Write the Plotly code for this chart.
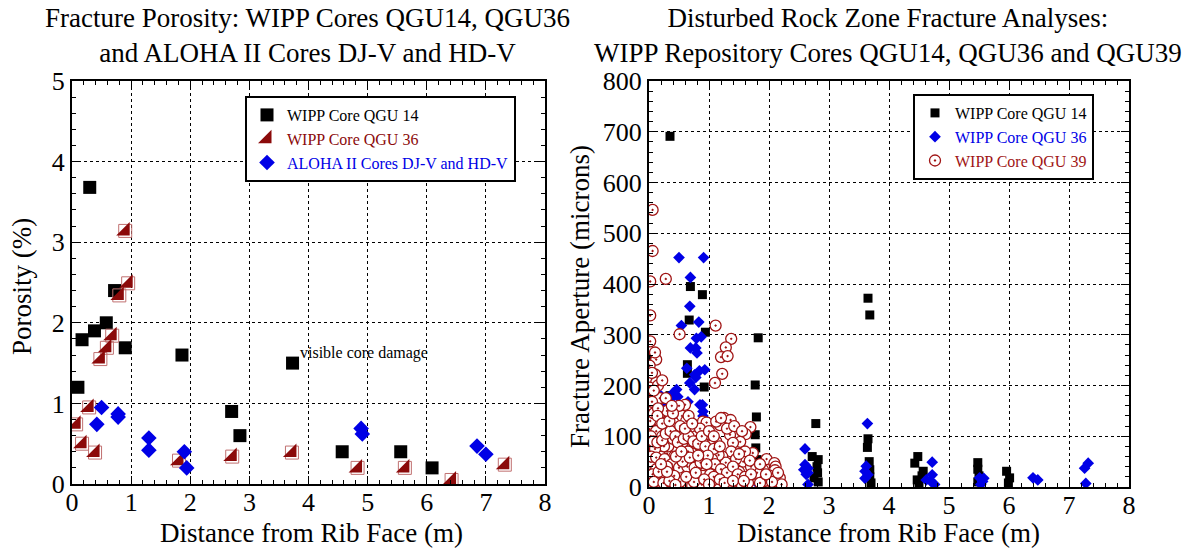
import plotly.graph_objects as go

# ---------------- Left chart data (Porosity %) ----------------
q14_x = [0.10, 0.17, 0.30, 0.38, 0.58, 0.72, 0.90, 1.86, 2.70, 2.84, 3.73, 4.57, 5.56, 6.09]
q14_y = [1.20, 1.79, 3.68, 1.90, 2.00, 2.40, 1.69, 1.60, 0.90, 0.60, 1.50, 0.40, 0.40, 0.20]

q36_x = [0.90, 0.95, 0.80, 0.68, 0.59, 0.48, 0.29, 0.07, 0.17, 0.39, 1.81, 2.71, 3.72, 4.83, 5.63, 6.42, 7.32]
q36_y = [3.14, 2.49, 2.34, 1.84, 1.69, 1.55, 0.95, 0.74, 0.50, 0.39, 0.29, 0.34, 0.39, 0.20, 0.20, 0.05, 0.24]

aloha_x = [0.50, 0.42, 0.78, 0.78, 1.30, 1.30, 1.90, 1.94, 4.89, 4.91, 6.85, 7.00]
aloha_y = [0.95, 0.74, 0.87, 0.83, 0.57, 0.42, 0.40, 0.20, 0.69, 0.62, 0.47, 0.37]

# ---------------- Right chart data (Aperture, microns) ----------------
r14_x = [0.35, 0.69, 0.89, 0.67, 0.94, 0.03, 0.64, 0.64, 0.92, 0.35, 0.00, 1.82, 1.77, 1.79, 1.77, 1.78,
         1.80, 1.78, 1.80, 0.70, 0.72, 0.70, 0.68, 0.00, 0.02, 0.05, 2.78, 2.72, 2.82, 2.80, 2.81, 2.82,
         2.75, 3.65, 3.68, 3.65, 3.64, 3.67, 3.68, 3.68, 3.70, 4.48, 4.43, 4.57, 4.47, 4.50, 4.55, 5.48,
         5.48, 5.50, 5.48, 5.96, 6.01, 5.99]
r14_y = [691, 395, 379, 329, 305, 257, 241, 224, 197, 180, 167, 294, 201, 138, 103, 77,
         54, 34, 15, 93, 70, 45, 20, 47, 14, 5, 125, 60, 54, 40, 28, 10,
         18, 372, 339, 95, 78, 50, 34, 20, 8, 60, 47, 31, 14, 5, 22, 48,
         35, 22, 10, 31, 18, 8]

r36_x = [0.50, 0.91, 0.69, 0.68, 0.54, 0.83, 0.79, 0.87, 0.69, 0.78, 0.80, 0.63, 0.76, 0.84, 0.93, 0.78,
         0.68, 0.46, 0.40, 0.76, 0.85, 0.89, 0.90, 0.29, 0.24, 0.40, 0.48, 0.43, 0.57, 0.62, 0.46, 0.71,
         0.60, 0.18, 0.09, 0.04, 0.18, 0.35, 0.48, 0.50, 0.65, 0.26, 0.71, 0.90, 0.76, 0.55, 0.07, 0.96,
         0.80, 1.79, 1.81, 1.77, 1.78, 2.60, 2.60, 2.65, 2.58, 2.65, 2.62, 2.65, 3.64, 3.62, 3.60, 3.65,
         3.60, 4.72, 4.72, 4.70, 4.76, 4.62, 5.51, 5.56, 5.53, 5.58, 6.40, 6.48, 7.32, 7.26, 7.28]
r36_y = [452, 452, 413, 356, 318, 325, 293, 296, 274, 274, 264, 234, 221, 229, 231, 216,
         205, 192, 185, 192, 162, 162, 149, 165, 157, 157, 146, 139, 139, 126, 119, 109,
         102, 119, 149, 185, 182, 172, 178, 161, 168, 146, 130, 140, 109, 109, 126, 83,
         60, 41, 33, 23, 10, 75, 44, 37, 34, 28, 25, 5, 125, 41, 31, 24,
         17, 49, 24, 11, 5, 14, 18, 11, 5, 17, 18, 14, 47, 37, 7]

r39_x = [0.06, 0.06, 0.28, 0.02, 0.02, 0.51, 1.11, 1.37, 1.28, 1.20, 1.31, 1.22, 1.10, 0.02, 0.12, 0.01,
         0.10, 0.12, 0.01, 0.12, 0.18, 0.60, 0.90, 0.96, 1.25, 1.36, 1.18, 1.69, 1.61, 1.35, 1.52, 1.40,
         1.73, 1.60, 1.37, 1.22, 1.57, 1.96, 2.09, 2.11, 2.10, 2.18, 2.21, 2.00, 1.90, 1.93, 1.75, 1.80,
         1.65, 1.50, 1.45, 1.30, 1.25, 1.15, 1.35, 1.55, 2.05, 1.70, 1.45, 1.28, 1.10, 1.05,
         0.00, 0.18, 0.05, 0.26, 0.37, 0.18, 0.01, 0.30, 0.41, 0.51, 0.10, 0.35, 0.62, 0.87, 0.98, 1.12,
         1.12, 1.20, 0.05, 0.18, 0.40, 0.68, 0.80, 1.03, 0.08, 0.30, 0.51, 0.45, 0.72, 0.90, 1.16, 0.01,
         0.22, 0.40, 0.60, 0.85, 1.00, 0.10, 0.28, 0.48, 0.66, 0.80, 0.95, 0.05, 0.20, 0.38, 0.55, 0.72,
         0.88, 0.15, 0.35, 0.62, 0.78, 0.95, 0.25, 0.45, 0.58, 0.70, 0.12, 0.22, 0.30, 0.45, 0.55, 0.70,
         0.78, 0.85, 0.20, 0.03, 0.02, 0.08, 0.15, 0.32, 0.55, 0.65, 0.92, 1.05, 0.12, 0.33, 0.52, 0.75,
         0.90, 1.02, 0.42, 0.58, 0.68, 0.18, 0.40, 0.50, 0.62, 0.25, 0.10,
         0.03, 0.07, 0.14, 0.22, 0.28, 0.36, 0.44, 0.48, 0.58, 0.66, 0.74, 0.82, 0.94, 1.08, 1.18, 0.04,
         0.12, 0.26, 0.38, 0.50, 0.64, 0.76, 0.86, 0.98, 1.10, 1.20, 1.30, 1.40, 1.48, 1.60, 1.70, 1.85,
         1.95, 2.15, 0.06, 0.16, 0.30, 0.42, 0.56, 0.68, 0.82, 0.96, 1.08, 1.18, 1.26, 1.40, 1.58, 1.68,
         1.85, 0.08, 0.24, 0.34, 0.44, 0.62, 0.78, 0.92, 1.00, 0.14, 0.22, 0.34, 0.40, 0.52, 0.60, 0.66,
         0.72, 0.28, 0.38, 0.15, 0.08, 0.05, 0.22, 0.10, 0.45, 0.54, 0.30, 0.20, 0.88, 1.00, 1.08, 1.30,
         1.42, 1.50, 1.55]
r39_y = [546, 465, 410, 405, 338, 301, 318, 292, 275, 256, 258, 223, 205, 287, 251, 239,
         222, 206, 196, 178, 174, 162, 129, 127, 136, 132, 122, 118, 104, 103, 89, 87,
         67, 70, 70, 60, 50, 55, 47, 40, 33, 18, 5, 23, 34, 12, 16, 28,
         8, 30, 15, 40, 22, 8, 5, 3, 10, 40, 55, 48, 30, 12,
         188, 175, 168, 139, 136, 129, 114, 120, 113, 103, 96, 93, 93, 90, 93, 90,
         129, 136, 81, 84, 81, 81, 75, 81, 66, 66, 50, 70, 66, 60, 63, 34,
         40, 34, 38, 34, 45, 20, 14, 18, 12, 20, 8, 5, 3, 6, 4, 3,
         5, 50, 52, 55, 48, 30, 28, 45, 25, 30, 110, 100, 150, 125, 140, 110,
         100, 115, 60, 50, 130, 145, 155, 80, 85, 70, 72, 55, 35, 25, 10, 10,
         22, 25, 60, 62, 45, 18, 95, 160, 130, 80, 75,
         100, 90, 88, 92, 105, 110, 100, 88, 95, 100, 90, 85, 80, 75, 80, 60,
         58, 55, 45, 38, 40, 38, 48, 62, 45, 35, 28, 40, 25, 20, 25, 8,
         25, 28, 25, 30, 40, 22, 50, 58, 62, 45, 20, 15, 8, 12, 12, 52,
         45, 10, 8, 12, 4, 20, 28, 15, 5, 140, 125, 130, 145, 120, 115, 140,
         125, 175, 160, 200, 190, 225, 210, 265, 60, 70, 30, 45, 100, 110, 100, 115,
         120, 65, 110]

x_ticks = [0, 1, 2, 3, 4, 5, 6, 7, 8]
left_y_ticks = [0, 1, 2, 3, 4, 5]
right_y_ticks = [0, 100, 200, 300, 400, 500, 600, 700, 800]

BLACK = "#000000"
DRED = "#8b0a0a"
BLUE = "#0000e6"
CRED = "#a01414"
FONT = "Liberation Serif"

fig = go.Figure()

# Left traces
fig.add_trace(go.Scatter(x=q14_x, y=q14_y, mode="markers", name="WIPP Core QGU 14",
                         marker=dict(symbol="square", size=13, color=BLACK),
                         xaxis="x", yaxis="y", legend="legend"))
fig.add_trace(go.Scatter(x=q36_x, y=q36_y, mode="markers", showlegend=False,
                         marker=dict(symbol="square-open", size=13, color="#c07070", line=dict(width=1)),
                         xaxis="x", yaxis="y", hoverinfo="skip"))
fig.add_trace(go.Scatter(x=q36_x, y=q36_y, mode="markers",
                         name="<span style='color:#8b0a0a'>WIPP Core QGU 36</span>",
                         marker=dict(symbol="triangle-se", size=15, color=DRED, line=dict(width=0)),
                         xaxis="x", yaxis="y", legend="legend"))
fig.add_trace(go.Scatter(x=aloha_x, y=aloha_y, mode="markers",
                         name="<span style='color:#0000e6'>ALOHA II Cores DJ-V and HD-V</span>",
                         marker=dict(symbol="diamond", size=12, color=BLUE),
                         xaxis="x", yaxis="y", legend="legend"))

# Right traces
fig.add_trace(go.Scatter(x=r14_x, y=r14_y, mode="markers", name="WIPP Core QGU 14",
                         marker=dict(symbol="square", size=9, color=BLACK),
                         xaxis="x2", yaxis="y2", legend="legend2"))
fig.add_trace(go.Scatter(x=r36_x, y=r36_y, mode="markers",
                         name="<span style='color:#0000e6'>WIPP Core QGU 36</span>",
                         marker=dict(symbol="diamond", size=9, color=BLUE),
                         xaxis="x2", yaxis="y2", legend="legend2"))
fig.add_trace(go.Scatter(x=r39_x, y=r39_y, mode="markers",
                         name="<span style='color:#a01414'>WIPP Core QGU 39</span>",
                         marker=dict(symbol="circle-dot", size=11, color="white",
                                     line=dict(width=1.3, color=CRED)),
                         xaxis="x2", yaxis="y2", legend="legend2"))

def xaxis(domain, anchor):
    return dict(domain=domain, anchor=anchor, range=[0, 8], tickvals=x_ticks,
                ticks="inside", ticklen=8, tickwidth=1, tickcolor="black",
                minor=dict(ticks="inside", dtick=0.2, ticklen=4, tickcolor="black", showgrid=False),
                showline=True, linecolor="black", linewidth=2, mirror="allticks",
                showgrid=True, gridcolor="black", griddash="dot", gridwidth=1,
                zeroline=False, automargin=False, ticklabelstandoff=-6,
                tickfont=dict(family=FONT, size=26, color="black"))

def yaxis(domain, anchor, rng, ticks, minor_dt):
    return dict(domain=domain, anchor=anchor, range=rng, tickvals=ticks,
                ticks="inside", ticklen=8, tickwidth=1, tickcolor="black",
                minor=dict(ticks="inside", dtick=minor_dt, ticklen=4, tickcolor="black", showgrid=False),
                showline=True, linecolor="black", linewidth=2, mirror="allticks",
                showgrid=True, gridcolor="black", griddash="dot", gridwidth=1,
                zeroline=False, automargin=False,
                tickfont=dict(family=FONT, size=26, color="black"))

W, H = 1186, 550
ann = []
def A(text, x, y, size, xanchor="center", yanchor="middle", angle=0, xref="paper", yref="paper"):
    ann.append(dict(text=text, x=x, y=y, xref=xref, yref=yref, showarrow=False,
                    xanchor=xanchor, yanchor=yanchor, textangle=angle,
                    font=dict(family=FONT, size=size, color="black")))

A("Fracture Porosity: WIPP Cores QGU14, QGU36<br>and ALOHA II Cores DJ-V and HD-V",
  307 / W, 1 - 36 / H, 27)
A("Disturbed Rock Zone Fracture Analyses:<br>WIPP Repository Cores QGU14, QGU36 and QGU39",
  888 / W, 1 - 36 / H, 27)
A("Distance from Rib Face (m)", 311 / W, 0, 27, yanchor="bottom")
A("Distance from Rib Face (m)", 888 / W, 0, 27, yanchor="bottom")
A("Porosity (%)", 22 / W, 1 - 287 / H, 27, angle=-90)
A("Fracture Aperture (microns)", 580 / W, 1 - 297 / H, 27, angle=-90)
A("visible core damage", 3.83, 1.62, 16, xanchor="left", xref="x", yref="y")

fig.update_layout(
    width=W, height=H,
    margin=dict(l=0, r=0, t=0, b=0, pad=0, autoexpand=False),
    paper_bgcolor="white", plot_bgcolor="white",
    font=dict(family=FONT, color="black"),
    xaxis=xaxis([72 / W, 545 / W], "y"),
    yaxis=yaxis([1 - 484 / H, 1 - 81 / H], "x", [0, 5], left_y_ticks, 0.2),
    xaxis2=xaxis([649 / W, 1129 / W], "y2"),
    yaxis2=yaxis([1 - 487 / H, 1 - 81 / H], "x2", [0, 800], right_y_ticks, 20),
    legend=dict(x=245 / W, y=1 - 96 / H, xanchor="left", yanchor="top",
                bgcolor="white", bordercolor="black", borderwidth=2,
                font=dict(family=FONT, size=16, color="black"),
                tracegroupgap=0, itemwidth=30),
    legend2=dict(x=913 / W, y=1 - 94 / H, xanchor="left", yanchor="top",
                 bgcolor="white", bordercolor="black", borderwidth=2,
                 font=dict(family=FONT, size=16, color="black"),
                 tracegroupgap=0, itemwidth=30, traceorder="normal"),
    annotations=ann,
    showlegend=True,
)

fig.write_html("out.html")
